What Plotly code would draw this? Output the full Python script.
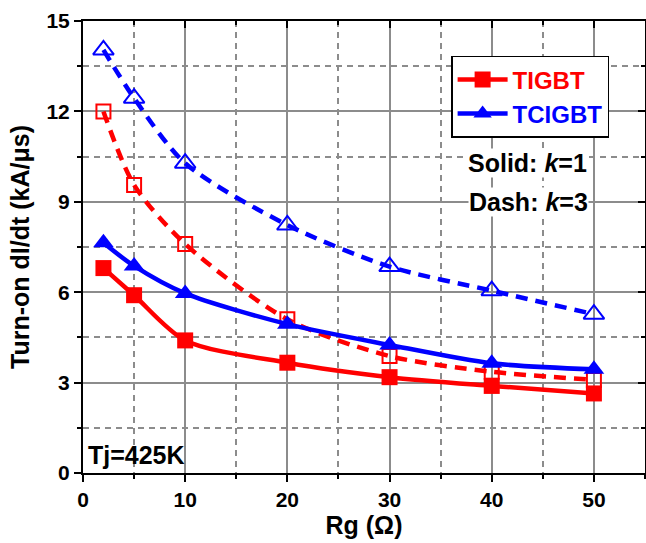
import plotly.graph_objects as go

rg = [2, 5, 10, 20, 30, 40, 50]
tigbt_k1 = [6.8, 5.9, 4.4, 3.66, 3.18, 2.89, 2.64]
tcigbt_k1 = [7.64, 6.87, 5.96, 4.94, 4.25, 3.64, 3.44]
tigbt_k3 = [12.0, 9.56, 7.6, 5.1, 3.88, 3.36, 3.09]
tcigbt_k3 = [14.04, 12.44, 10.28, 8.23, 6.85, 6.05, 5.27]

x_ticks = [0, 10, 20, 30, 40, 50]
y_ticks = [0, 3, 6, 9, 12, 15]

RED = "#ff0000"
BLUE = "#0000ff"
GRID = "#8c8c8c"
FONT = "Arial, Liberation Sans, sans-serif"

fig = go.Figure()

# dashed (k=3) open markers
fig.add_trace(go.Scatter(
    x=rg, y=tigbt_k3, mode="lines+markers", showlegend=False,
    line=dict(color=RED, width=4.5, dash="12px,8px", shape="spline", smoothing=0.8),
    marker=dict(symbol="square-open", size=14, color=RED, line=dict(width=2, color=RED))))
fig.add_trace(go.Scatter(
    x=rg, y=tcigbt_k3, mode="lines+markers", showlegend=False,
    line=dict(color=BLUE, width=4.5, dash="12px,8px", shape="spline", smoothing=0.8),
    marker=dict(symbol="triangle-up-open", size=18, color=BLUE, line=dict(width=2, color=BLUE))))

# solid (k=1) filled markers
fig.add_trace(go.Scatter(
    x=rg, y=tigbt_k1, mode="lines+markers", name=f"<span style='color:{RED}'>TIGBT</span>",
    line=dict(color=RED, width=4.5, shape="spline", smoothing=0.8),
    marker=dict(symbol="square", size=16, color=RED)))
fig.add_trace(go.Scatter(
    x=rg, y=tcigbt_k1, mode="lines+markers", name=f"<span style='color:{BLUE}'>TCIGBT</span>",
    line=dict(color=BLUE, width=4.5, shape="spline", smoothing=0.8),
    marker=dict(symbol="triangle-up", size=18, color=BLUE)))

tickfont = dict(family=FONT, size=21, color="black", weight="bold")
titlefont = dict(family=FONT, size=25, color="black", weight="bold")

fig.update_layout(
    width=646, height=543,
    margin=dict(l=83, r=1, t=21, b=70),
    paper_bgcolor="white", plot_bgcolor="white",
    xaxis=dict(
        range=[0, 55], tickvals=x_ticks, ticks="outside", ticklen=7, tickwidth=2,
        tickcolor="black", showline=True, linecolor="black", linewidth=2, mirror=True,
        showgrid=True, gridcolor=GRID, gridwidth=1.5, zeroline=False, automargin=False,
        tickfont=tickfont,
        title=dict(text="Rg (Ω)", font=titlefont, standoff=4),
        minor=dict(dtick=5, tick0=0, ticks="outside", ticklen=4, tickwidth=2, tickcolor="black",
                   showgrid=True, gridcolor=GRID, gridwidth=1.5, griddash="6px,5px"),
    ),
    yaxis=dict(
        range=[0, 15], tickvals=y_ticks, ticks="outside", ticklen=7, tickwidth=2,
        tickcolor="black", showline=True, linecolor="black", linewidth=2, mirror=True,
        showgrid=True, gridcolor=GRID, gridwidth=1.5, zeroline=False, automargin=False,
        tickfont=tickfont,
        title=dict(text="Turn-on dI/dt (kA/μs)", font=titlefont, standoff=10),
        minor=dict(dtick=1.5, tick0=0, ticks="outside", ticklen=4, tickwidth=2, tickcolor="black",
                   showgrid=True, gridcolor=GRID, gridwidth=1.5, griddash="6px,5px"),
    ),
    xaxis2=dict(
        overlaying="x", side="top", range=[0, 55], tickvals=x_ticks, ticks="inside",
        ticklen=7, tickwidth=2, tickcolor="black", showticklabels=False, showgrid=False,
        zeroline=False, showline=False, automargin=False,
        minor=dict(dtick=5, tick0=0, ticks="inside", ticklen=4, tickwidth=2, tickcolor="black"),
    ),
    yaxis2=dict(
        overlaying="y", side="right", range=[0, 15], tickvals=y_ticks, ticks="inside",
        ticklen=7, tickwidth=2, tickcolor="black", showticklabels=False, showgrid=False,
        zeroline=False, showline=False, automargin=False,
        minor=dict(dtick=1.5, tick0=0, ticks="inside", ticklen=4, tickwidth=2, tickcolor="black"),
    ),
    legend=dict(
        x=0.655, y=0.923, xanchor="left", yanchor="top",
        bgcolor="white", bordercolor="black", borderwidth=1.5,
        font=dict(family=FONT, size=24, weight="bold"),
        tracegroupgap=0, itemwidth=50,
    ),
    annotations=[
        dict(x=43.5, y=10.29, xref="x", yref="y", text="Solid: <i>k</i>=1", showarrow=False,
             font=dict(family=FONT, size=25, color="black", weight="bold"), bgcolor="white",
             borderpad=0),
        dict(x=43.6, y=8.99, xref="x", yref="y", text="Dash: <i>k</i>=3", showarrow=False,
             font=dict(family=FONT, size=25, color="black", weight="bold"), bgcolor="white",
             borderpad=0),
        dict(x=0.4, y=0.6, xref="x", yref="y", xanchor="left", text="Tj=425K", showarrow=False,
             font=dict(family=FONT, size=25, color="black", weight="bold"), borderpad=0),
    ],
)

# invisible traces to activate overlay axes
fig.add_trace(go.Scatter(x=[None], y=[None], xaxis="x2", yaxis="y2", showlegend=False,
                         hoverinfo="skip"))

fig.write_html("out.html", config={"displayModeBar": False},
               post_script="document.body.style.margin='0';document.body.style.overflow='hidden';")
